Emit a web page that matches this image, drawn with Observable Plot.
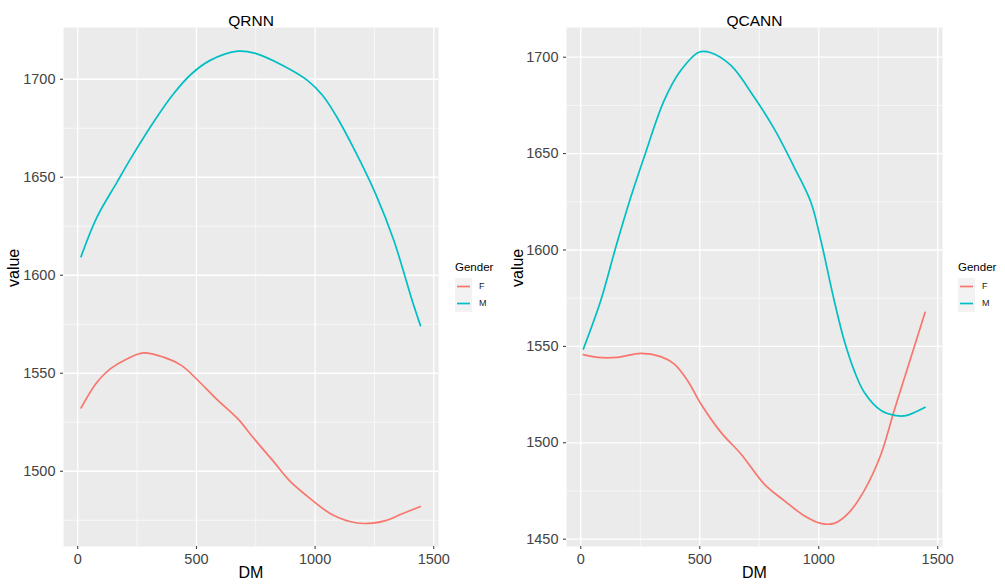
<!DOCTYPE html>
<html><head><meta charset="utf-8">
<script src="https://cdn.jsdelivr.net/npm/d3@7"></script>
<script src="https://cdn.jsdelivr.net/npm/@observablehq/plot@0.6"></script>
<style>
body{margin:0;background:#fff;font-family:"Liberation Sans",Arial,sans-serif;}
#root{position:relative;width:1005px;height:587px;overflow:hidden;background:#fff;}
.panel{position:absolute;top:0;}
.legend{position:absolute;font-family:"Liberation Sans",Arial,sans-serif;}
.legend .ttl{font-size:11.5px;color:#000;position:absolute;white-space:nowrap;}
.legend svg{position:absolute;}
.legend .lab{position:absolute;font-size:9px;color:#222;}
</style></head><body><div id="root"></div>
<script>
const genders = ["F", "M"];
const genderColors = ["#F8766D", "#00BFC4"];
const xMajor = [0, 500, 1000, 1500];
const xMinor = [250, 750, 1250];

// QRNN panel
const qrnnTitle = "QRNN";
const qrnnYMajor = [1500, 1550, 1600, 1650, 1700];
const qrnnYMinor = [1475, 1525, 1575, 1625, 1675];
const qrnnF_DM =    [14, 81, 137, 207, 277, 361, 438, 507, 584, 675, 738, 822, 892, 990, 1073, 1171, 1241, 1297, 1367, 1444];
const qrnnF_value = [1532.3, 1545.4, 1552.2, 1557.3, 1560.4, 1558.2, 1553.9, 1546.3, 1536.9, 1526.7, 1517.3, 1505.4, 1495.2, 1485, 1477.8, 1473.7, 1473.5, 1474.8, 1478.3, 1482];
const qrnnM_DM =    [14, 81, 165, 235, 333, 403, 480, 556, 675, 745, 864, 969, 1032, 1088, 1171, 1255, 1332, 1409, 1444];
const qrnnM_value = [1609.5, 1629.6, 1647.4, 1661.9, 1680.6, 1692.5, 1702.8, 1709.5, 1714.3, 1713.3, 1707, 1699.3, 1691.7, 1681.5, 1662.8, 1641.5, 1617.7, 1587.1, 1574.3];

// QCANN panel
const qcannTitle = "QCANN";
const qcannYMajor = [1450, 1500, 1550, 1600, 1650, 1700];
const qcannYMinor = [1475, 1525, 1575, 1625, 1675];
const qcannF_DM =    [11, 70, 154, 252, 336, 392, 449, 505, 589, 673, 771, 855, 939, 1009, 1065, 1122, 1191, 1262, 1317, 1374, 1447];
const qcannF_value = [1545.7, 1544.3, 1544.3, 1546.4, 1544.7, 1540.9, 1532.2, 1520.1, 1505.4, 1494.2, 1478.6, 1470, 1462.2, 1458.2, 1458.2, 1463.1, 1475.2, 1494.2, 1516.7, 1539.1, 1567.7];
const qcannM_DM =    [11, 84, 147, 210, 266, 350, 420, 497, 547, 631, 729, 813, 897, 967, 1009, 1065, 1107, 1149, 1191, 1262, 1325, 1367, 1447];
const qcannM_value = [1548.7, 1573.8, 1601.4, 1627.3, 1648.1, 1677.5, 1693.1, 1702.6, 1702.3, 1695.7, 1679.2, 1662.8, 1642.9, 1624.8, 1604.9, 1573.7, 1553, 1537.4, 1526.2, 1516.7, 1514.1, 1514.1, 1518.4];

function toRows(gender, xs, ys) {
  return xs.map((x, i) => ({DM: x, value: ys[i], Gender: gender}));
}

function makePanel(opts) {
  const data = [
    ...toRows("F", opts.fX, opts.fY),
    ...toRows("M", opts.mX, opts.mY)
  ];
  return Plot.plot({
    width: opts.width,
    height: 587,
    marginLeft: opts.marginLeft,
    marginRight: opts.marginRight,
    marginTop: 27,
    marginBottom: 41,
    style: {fontFamily: "Liberation Sans, Arial, sans-serif", background: "transparent", overflow: "visible"},
    x: {domain: [-60, 1520]},
    y: {domain: opts.yDomain},
    color: {domain: genders, range: genderColors},
    marks: [
      Plot.frame({fill: "#EBEBEB", stroke: null}),
      Plot.ruleY(opts.yMinor, {stroke: "#fff", strokeWidth: 0.6}),
      Plot.ruleX(xMinor, {stroke: "#fff", strokeWidth: 0.6}),
      Plot.ruleY(opts.yMajor, {stroke: "#fff", strokeWidth: 1.3}),
      Plot.ruleX(xMajor, {stroke: "#fff", strokeWidth: 1.3}),
      Plot.line(data, {x: "DM", y: "value", z: "Gender", stroke: "Gender", curve: "catmull-rom", strokeWidth: 1.7}),
      Plot.axisX(xMajor, {tickSize: 3, tickPadding: 4, fontSize: 14.5, stroke: "#333", fill: "#444", label: null, tickFormat: d => String(d)}),
      Plot.axisY(opts.yMajor, {tickSize: 3, tickPadding: 5, fontSize: 14.5, stroke: "#333", fill: "#444", label: null, tickFormat: d => String(d)}),
      Plot.text([opts.title], {frameAnchor: "top", dy: -13, fontSize: 15.5, fill: "#000"}),
      Plot.text(["DM"], {frameAnchor: "bottom", dy: 31, fontSize: 16, fill: "#000"}),
      Plot.text(["value"], {frameAnchor: "left", rotate: -90, dx: opts.yLabelDx, fontSize: 16, fill: "#000"})
    ]
  });
}

function makeLegend(left) {
  const div = document.createElement("div");
  div.className = "legend";
  div.style.left = left + "px";
  div.style.top = "260px";
  const t = document.createElement("div");
  t.className = "ttl"; t.textContent = "Gender"; t.style.left = "0px"; t.style.top = "1px";
  div.appendChild(t);
  const ns = "http://www.w3.org/2000/svg";
  genders.forEach((g, i) => {
    const s = document.createElementNS(ns, "svg");
    s.setAttribute("width", "17"); s.setAttribute("height", "17");
    s.style.left = "0px"; s.style.top = (18 + 17 * i) + "px";
    const r = document.createElementNS(ns, "rect");
    r.setAttribute("width", "17"); r.setAttribute("height", "17"); r.setAttribute("fill", "#F2F2F2");
    const ln = document.createElementNS(ns, "line");
    ln.setAttribute("x1", "2"); ln.setAttribute("x2", "15"); ln.setAttribute("y1", "8.5"); ln.setAttribute("y2", "8.5");
    ln.setAttribute("stroke", genderColors[i]); ln.setAttribute("stroke-width", "1.7");
    s.appendChild(r); s.appendChild(ln); div.appendChild(s);
    const l = document.createElement("div");
    l.className = "lab"; l.textContent = g; l.style.left = "24px"; l.style.top = (21 + 17 * i) + "px";
    div.appendChild(l);
  });
  return div;
}

const root = document.getElementById("root");

const left = makePanel({
  title: qrnnTitle, width: 500, marginLeft: 63, marginRight: 62,
  yDomain: [1461.6, 1726.4], yMajor: qrnnYMajor, yMinor: qrnnYMinor,
  fX: qrnnF_DM, fY: qrnnF_value, mX: qrnnM_DM, mY: qrnnM_value, yLabelDx: -49.5
});
left.classList.add("panel"); left.style.left = "0px";
root.appendChild(left);

const right = makePanel({
  title: qcannTitle, width: 505, marginLeft: 66, marginRight: 63,
  yDomain: [1446.2, 1715.4], yMajor: qcannYMajor, yMinor: qcannYMinor,
  fX: qcannF_DM, fY: qcannF_value, mX: qcannM_DM, mY: qcannM_value, yLabelDx: -49
});
right.classList.add("panel"); right.style.left = "500px";
root.appendChild(right);

root.appendChild(makeLegend(455));
root.appendChild(makeLegend(958));
</script>
</body></html>
